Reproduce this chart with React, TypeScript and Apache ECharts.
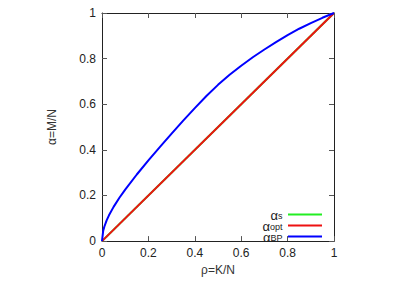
import React, { useEffect, useRef } from "react";
import * as echarts from "echarts";

const rho = [0, 0.005, 0.01, 0.02, 0.03, 0.05, 0.075, 0.1, 0.15, 0.2, 0.25, 0.3, 0.35, 0.4, 0.45, 0.5, 0.55, 0.6, 0.65, 0.7, 0.75, 0.8, 0.85, 0.9, 0.95, 1];
const alphaBP = [0, 0.044, 0.063, 0.091, 0.113, 0.15, 0.19, 0.226, 0.292, 0.354, 0.413, 0.471, 0.528, 0.583, 0.636, 0.685, 0.729, 0.769, 0.806, 0.84, 0.872, 0.903, 0.931, 0.956, 0.979, 1];
const rhoLine = [0, 1];
const alphaOpt = [0, 1];
const alphaS = [0, 1];
const ticks = [0, 0.2, 0.4, 0.6, 0.8, 1];

const seriesNames = ["αs", "αopt", "αBP"];
const legendText: Record<string, string> = {
  αs: "{a|α}{s|s}{p| }",
  αopt: "{a|α}{s|opt}{p| }",
  αBP: "{a|α}{s|BP}{p| }",
};

const FONT = "Liberation Sans, Arial, sans-serif";

export default function App() {
  const ref = useRef<HTMLDivElement>(null);
  useEffect(() => {
    if (!ref.current) return;
    const chart = echarts.init(ref.current, undefined, { renderer: "svg" });
    const fmt = (v: number) => (ticks.includes(v) ? String(v) : "");
    const axisCommon = {
      type: "value" as const,
      min: 0,
      max: 1,
      interval: 0.2,
      axisLine: { show: true, onZero: false, lineStyle: { color: "#222", width: 1 } },
      axisTick: { show: true, inside: true, length: 5, lineStyle: { color: "#555" } },
      splitLine: { show: false },
    };
    chart.setOption({
      animation: false,
      backgroundColor: "#fff",
      grid: { left: 102, right: 68, top: 13, bottom: 36 },
      xAxis: [
        {
          ...axisCommon,
          position: "bottom",
          name: "ρ=K/N",
          nameLocation: "middle",
          nameGap: 21,
          nameTextStyle: { fontFamily: FONT, fontSize: 12, color: "#333" },
          axisLabel: { formatter: fmt, fontFamily: FONT, fontSize: 12, color: "#222", margin: 6 },
        },
        {
          ...axisCommon,
          position: "top",
          axisLabel: { show: false },
        },
      ],
      yAxis: [
        {
          ...axisCommon,
          position: "left",
          name: "α=M/N",
          nameLocation: "middle",
          nameGap: 44,
          nameTextStyle: { fontFamily: FONT, fontSize: 12, color: "#333" },
          axisLabel: { formatter: fmt, fontFamily: FONT, fontSize: 12, color: "#222", margin: 6 },
        },
        {
          ...axisCommon,
          position: "right",
          axisLabel: { show: false },
        },
      ],
      legend: {
        orient: "vertical",
        right: 80,
        top: 209,
        align: "right",
        icon: "rect",
        itemWidth: 34,
        itemHeight: 2,
        itemGap: -2,
        padding: 0,
        data: seriesNames,
        formatter: (n: string) => legendText[n] || n,
        textStyle: {
          fontFamily: FONT,
          color: "#222",
          rich: {
            a: { fontSize: 13, fontFamily: FONT, color: "#222", lineHeight: 4, verticalAlign: "top" },
            s: { fontSize: 9, fontFamily: FONT, color: "#222", lineHeight: 9, verticalAlign: "bottom" },
            p: { fontSize: 2, fontFamily: FONT, lineHeight: 11 },
          },
        },
      },
      series: [
        {
          name: "αs",
          type: "line",
          data: rhoLine.map((r, i) => [r, alphaS[i]]),
          showSymbol: false,
          symbol: "none",
          lineStyle: { color: "#22ee22", width: 2 },
          itemStyle: { color: "#22ee22" },
          z: 1,
        },
        {
          name: "αopt",
          type: "line",
          data: rhoLine.map((r, i) => [r, alphaOpt[i]]),
          showSymbol: false,
          symbol: "none",
          lineStyle: { color: "#ee1111", width: 2 },
          itemStyle: { color: "#ee1111" },
          z: 2,
        },
        {
          name: "αBP",
          type: "line",
          smooth: false,
          data: rho.map((r, i) => [r, alphaBP[i]]),
          showSymbol: false,
          symbol: "none",
          lineStyle: { color: "#0000ff", width: 2 },
          itemStyle: { color: "#0000ff" },
          z: 3,
        },
      ],
    });
    return () => chart.dispose();
  }, []);
  return <div ref={ref} style={{ position: "fixed", left: 0, top: 0, width: 402, height: 281 }} />;
}
